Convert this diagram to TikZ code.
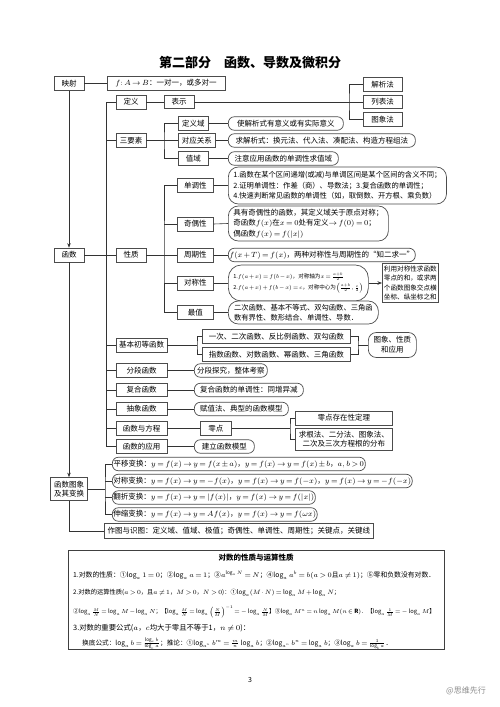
\RequirePackage{fix-cm}
\documentclass[tikz,border=0pt]{standalone}
\usepackage{fontspec}
\setmainfont{Noto Sans CJK SC}
\usetikzlibrary{arrows.meta}
\thickmuskip=3mu plus 2mu
\medmuskip=2mu plus 1mu
\newcommand\myfs{\fontsize{7.5}{9}\selectfont}
\newcommand\mysm{\fontsize{6.6}{9.4}\selectfont}
\newcommand\lgfs{\fontsize{6.4}{8}\selectfont}
\tikzset{
  ln/.style={draw=black!80, line width=0.6pt},
  bx/.style={draw=black!70, line width=0.7pt, fill=white, inner sep=1pt, font=\myfs, minimum height=13.5pt},
  rb/.style={bx, rounded corners=6pt},
  rbm/.style={bx, rounded corners=10pt, align=left, inner xsep=5pt},
  arr/.style={ln, -{Stealth[length=4.5pt,width=3.5pt]}},
  txt/.style={inner sep=0pt, font=\lgfs, anchor=west},
}
\begin{document}
\begin{tikzpicture}[x=1pt,y=-1pt]
\useasboundingbox (0,0) rectangle (500,707);
\fill[white] (0,0) rectangle (500,707);

% title
\node[inner sep=0pt] (tt) at (250,63) {\fontsize{13}{15}\selectfont\bfseries 第二部分\quad 函数、导数及微积分};

% level 1
\node[bx, minimum width=30pt] (ys) at (69,83.5) {映射};
\node[bx, minimum width=118pt] (fab) at (166,83.5) {$f\colon A\to B$：一对一，或多对一};
\node[bx, minimum width=30pt, minimum height=14pt] (hs) at (69,255) {函数};
\node[bx, minimum width=37pt, minimum height=23pt, align=center, font=\fontsize{7.5}{8.6}\selectfont] (tx) at (69,489) {函数图象\\及其变换};
\draw[ln] (ys.east) -- (fab.west);
\draw[arr] (ys.south) -- (hs.north);
\draw[arr] (hs.south) -- (tx.north);

% trunk
\coordinate (ta) at (106,102);
\coordinate (tb) at (106,446.5);
\draw[ln] (ta) -- (tb);

% level 2
\node[bx, minimum width=30pt, minimum height=14pt] (dy) at (131,102) {定义};
\node[bx, minimum width=30pt, minimum height=14pt] (sys) at (131,140.5) {三要素};
\node[bx, minimum width=30pt, minimum height=14pt] (xz) at (131,255) {性质};
\node[bx, minimum width=51pt, minimum height=14pt] (jb) at (141.5,345) {基本初等函数};
\node[bx, minimum width=51pt] (fd) at (141.5,370.5) {分段函数};
\node[bx, minimum width=51pt] (fh) at (141.5,390) {复合函数};
\node[bx, minimum width=51pt] (cx) at (141.5,409) {抽象函数};
\node[bx, minimum width=51pt] (fc) at (141.5,428.5) {函数与方程};
\node[bx, minimum width=51pt] (yy) at (141.5,446.5) {函数的应用};
\foreach \n in {dy,sys,jb,fd,fh,cx,fc,yy} \draw[ln] (\n.west) -- (\n.west -| ta);
\draw[ln] (hs.east) -- (xz.west);

% definition
\node[bx, minimum width=30pt] (bs) at (179,102) {表示};
\node[bx, minimum width=39pt] (jxf) at (382.5,84.5) {解析法};
\node[bx, minimum width=39pt] (lbf) at (382.5,102) {列表法};
\node[bx, minimum width=39pt] (txf) at (382.5,119.5) {图象法};
\coordinate (k1) at (349,102);
\draw[ln] (dy.east) -- (bs.west);
\draw[ln] (bs.east) -- (lbf.west);
\draw[ln] (jxf.west) -| (k1) |- (txf.west);

% three elements
\node[bx, anchor=west, minimum width=30pt] (dyy) at (178,123.5) {定义域};
\node[bx, anchor=west, minimum width=37pt] (dygx) at (178,140.5) {对应关系};
\node[bx, anchor=west, minimum width=30pt] (zy) at (178,158.5) {值域};
\coordinate (k2) at (164,140.5);
\draw[ln] (sys.east) -- (dygx.west);
\draw[ln] (dyy.west) -| (k2) |- (zy.west);
\node[rb, anchor=west, minimum width=115pt] (r1) at (228,123.5) {使解析式有意义或有实际意义};
\node[rb, anchor=west, minimum width=187pt] (r2) at (228,140.5) {求解析式：换元法、代入法、凑配法、构造方程组法};
\node[rb, anchor=west, minimum width=110pt] (r3) at (228,158.5) {注意应用函数的单调性求值域};
\draw[ln] (dyy.east) -- (r1.west);
\draw[ln] (dygx.east) -- (r2.west);
\draw[ln] (zy.east) -- (r3.west);

% properties
\node[bx, anchor=west, minimum width=36pt, minimum height=14pt] (ddx) at (177,185.5) {单调性};
\node[bx, anchor=west, minimum width=36pt, minimum height=14pt] (jox) at (177,224) {奇偶性};
\node[bx, anchor=west, minimum width=36pt, minimum height=14pt] (zqx) at (177,255) {周期性};
\node[bx, anchor=west, minimum width=36pt, minimum height=14pt] (dcx) at (177,283) {对称性};
\node[bx, anchor=west, minimum width=36pt, minimum height=14pt] (zz) at (177,312.5) {最值};
\coordinate (k3) at (164,255);
\draw[ln] (xz.east) -- (zqx.west);
\draw[ln] (ddx.west) -| (k3) |- (zz.west);
\draw[ln] (jox.west) -- (jox.west -| k3);
\draw[ln] (dcx.west) -- (dcx.west -| k3);

\node[rbm, anchor=west, minimum width=215pt, minimum height=37pt, font=\fontsize{7.3}{10.5}\selectfont] (rd) at (228,185.5) {1.函数在某个区间递增(或减)与单调区间是某个区间的含义不同；\\2.证明单调性：作差（商）、导数法；3.复合函数的单调性；\\4.快速判断常见函数的单调性（如，取倒数、开方根、乘负数）};
\node[rbm, anchor=west, minimum width=160pt, minimum height=35pt, font=\fontsize{7.5}{10.5}\selectfont] (rj) at (228,223.5) {具有奇偶性的函数，其定义域关于原点对称；\\奇函数$f(x)$在$x=0$处有定义$\to f(0)=0$；\\偶函数$f(x)=f(|x|)$};
\node[rb, anchor=west, minimum width=186pt] (rz) at (228,255) {$f(x+T)=f(x)$，两种对称性与周期性的“知二求一”};
\node[bx, anchor=west, minimum width=140pt, minimum height=36pt, inner xsep=3pt, rounded corners=13pt, font=\fontsize{6.6}{9}\selectfont] (rdc) at (228,283) {\resizebox{130pt}{!}{\begin{tabular}{@{}l@{}}1.$f(a+x)=f(b-x)$，对称轴为$x=\frac{a+b}{2}$\\[3pt]2.$f(a+x)+f(b-x)=c$，对称中心为$\left(\frac{a+b}{2},\frac{c}{2}\right)$\end{tabular}}};
\node[rbm, anchor=west, minimum width=150pt, minimum height=23pt, font=\fontsize{7.3}{9.5}\selectfont] (rzz) at (228,312.5) {二次函数、基本不等式、双勾函数、三角函\\数有界性、数形结合、单调性、导数．};
\draw[ln] (ddx.east) -- (rd.west);
\draw[ln] (jox.east) -- (rj.west);
\draw[ln] (zqx.east) -- (rz.west);
\draw[ln] (dcx.east) -- (rdc.west);
\draw[ln] (zz.east) -- (rzz.west);
\node[bx, anchor=west, minimum width=56pt, minimum height=39pt, align=left, font=\mysm] (nt) at (382,283) {利用对称性求函数\\零点的和，或求两\\个函数图象交点横\\坐标、纵坐标之和};
\draw[arr] (rdc.east) -- (nt.west);

% elementary functions
\node[bx, anchor=west, minimum width=148pt] (e1) at (202,336.5) {一次、二次函数、反比例函数、双勾函数};
\node[bx, anchor=west, minimum width=148pt] (e2) at (202,354.5) {指数函数、对数函数、幂函数、三角函数};
\coordinate (k4) at (197,345);
\coordinate (k5) at (358,345);
\draw[ln] (jb.east) -- (k4);
\draw[ln] (e1.west) -| (k4) |- (e2.west);
\draw[ln] (e1.east) -| (k5) |- (e2.east);
\node[rb, anchor=west, minimum width=48pt, minimum height=25pt, align=center, rounded corners=8pt, font=\fontsize{7.5}{10}\selectfont] (txyy) at (368,345) {图象、性质\\和应用};
\draw[ln] (k5) -- (txyy.west);

% other function kinds
\node[rb, anchor=west, minimum width=73pt] (rf) at (194,370.5) {分段探究，整体考察};
\node[rb, anchor=west, minimum width=109pt] (rfh) at (194,390) {复合函数的单调性：同增异减};
\node[rb, anchor=west, minimum width=94pt] (rcx) at (194,409) {赋值法、典型的函数模型};
\node[bx, anchor=west, minimum width=31pt] (ld) at (200,428.5) {零点};
\node[rb, anchor=west, minimum width=60pt] (rjl) at (194,446.5) {建立函数模型};
\draw[ln] (fd.east) -- (rf.west);
\draw[ln] (fh.east) -- (rfh.west);
\draw[ln] (cx.east) -- (rcx.west);
\draw[ln] (fc.east) -- (ld.west);
\draw[ln] (yy.east) -- (rjl.west);
\node[bx, anchor=west, minimum width=97pt, minimum height=14pt] (z1) at (295,418) {零点存在性定理};
\node[bx, anchor=west, minimum width=97pt, minimum height=22pt, align=center, font=\fontsize{7.5}{9.5}\selectfont] (z2) at (295,439) {求根法、二分法、图象法、\\二次及三次方程根的分布};
\coordinate (k6) at (290,428.5);
\draw[ln] (ld.east) -- (k6);
\draw[ln] (z1.west) -| (k6) |- (z2.west);

% graph transforms
\node[rb, anchor=west, minimum width=253pt] (py) at (112,464) {平移变换：$y=f(x)\to y=f(x\pm a)$，$y=f(x)\to y=f(x)\pm b$，$a,b>0$};
\node[rb, anchor=west, minimum width=290pt] (dcb) at (112,481) {对称变换：$y=f(x)\to y=-f(x)$，$y=f(x)\to y=f(-x)$，$y=f(x)\to y=-f(-x)$};
\node[rb, anchor=west, minimum width=203pt] (fzb) at (112,497.5) {翻折变换：$y=f(x)\to y=|f(x)|$，$y=f(x)\to y=f(|x|)$};
\node[rb, anchor=west, minimum width=203pt] (ssb) at (112,514.5) {伸缩变换：$y=f(x)\to y=Af(x)$，$y=f(x)\to y=f(\omega x)$};
\coordinate (k7) at (105,489);
\draw[ln] (tx.east) -- (k7);
\draw[ln] (py.west) -| (k7) |- (ssb.west);
\draw[ln] (dcb.west) -- (dcb.west -| k7);
\draw[ln] (fzb.west) -- (fzb.west -| k7);
\node[bx, anchor=west, minimum width=269pt, minimum height=15pt] (zt) at (104,531) {作图与识图：定义域、值域、极值；奇偶性、单调性、周期性；关键点，关键线};
\draw[ln] (tx.south) |- (zt.west);

% logarithm box
\node[draw=black!75, line width=0.9pt, anchor=north west, minimum width=376pt, minimum height=99pt, inner sep=0pt] (lg) at (68,550) {};
\node[inner sep=0pt, font=\fontsize{7.5}{9}\selectfont\bfseries] (lgt) at (256,558) {对数的性质与运算性质};
\node[txt] (l1) at (73,575) {\resizebox{362pt}{!}{1.对数的性质：①$\log_a 1=0$；②$\log_a a=1$；③$a^{\log_a N}=N$；④$\log_a a^b=b(a>0$且$a\neq1)$；⑤零和负数没有对数．}};
\node[txt] (l2) at (73,593) {\resizebox{267pt}{!}{2.对数的运算性质($a>0$，且$a\neq1$，$M>0$，$N>0$)：①$\log_a(M\cdot N)=\log_a M+\log_a N$；}};
\node[txt] (l3) at (73,612) {\resizebox{362pt}{!}{②$\log_a\frac{M}{N}=\log_a M-\log_a N$；【$\log_a\frac{M}{N}=\log_a\left(\frac{N}{M}\right)^{-1}=-\log_a\frac{N}{M}$】③$\log_a M^n=n\log_a M(n\in\mathbf{R})$．【$\log_a\frac{1}{M}=-\log_a M$】}};
\node[txt] (l4) at (73,628.5) {\resizebox{177pt}{!}{3.对数的重要公式($a$，$c$均大于零且不等于1，$n\neq0$)：}};
\node[txt] (l5) at (82,643.5) {\resizebox{310pt}{!}{换底公式：$\log_a b=\frac{\log_c b}{\log_c a}$；推论：①$\log_{a^n} b^m=\frac{m}{n}\log_a b$；②$\log_{a^n} b^n=\log_a b$；③$\log_a b=\frac{1}{\log_b a}$．}};

% page number and watermark
\node[inner sep=0pt, font=\fontsize{7}{8}\selectfont] (pg) at (250,680) {3};
\node[inner sep=0pt, text=black!45, font=\fontsize{8}{9}\selectfont] (wm) at (466,691) {@思维先行};
\end{tikzpicture}
\end{document}
